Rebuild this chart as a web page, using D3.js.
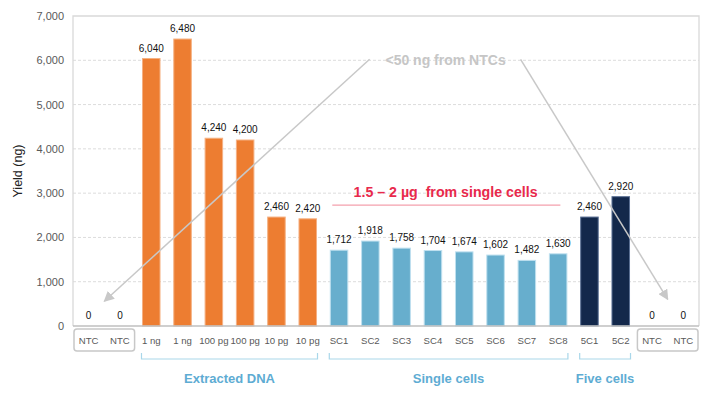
<!DOCTYPE html>
<html>
<head>
<meta charset="utf-8">
<script src="https://cdn.jsdelivr.net/npm/d3@7"></script>
<style>
  body { margin: 0; background: white; }
  text { font-family: Arial, "Liberation Sans", sans-serif; }
</style>
</head>
<body>
<div id="chart-area"></div>
<script>
// data
const categories = ["NTC", "NTC", "1 ng", "1 ng", "100 pg", "100 pg", "10 pg", "10 pg",
    "SC1", "SC2", "SC3", "SC4", "SC5", "SC6", "SC7", "SC8", "5C1", "5C2", "NTC", "NTC"]
const yields = [0, 0, 6040, 6480, 4240, 4200, 2460, 2420,
    1712, 1918, 1758, 1704, 1674, 1602, 1482, 1630, 2460, 2920, 0, 0]
const sampleType = ["ntc", "ntc", "dna", "dna", "dna", "dna", "dna", "dna",
    "sc", "sc", "sc", "sc", "sc", "sc", "sc", "sc", "five", "five", "ntc", "ntc"]
const yTicks = [0, 1000, 2000, 3000, 4000, 5000, 6000, 7000]
const groups = [
    {label: "Extracted DNA", from: 2, to: 7},
    {label: "Single cells", from: 8, to: 15},
    {label: "Five cells", from: 16, to: 17}
]

const margin = {left: 73, right: 17, top: 16, bottom: 69}
const width = 716 - margin.left - margin.right,
    height = 395 - margin.top - margin.bottom

const svg = d3.select("#chart-area").append("svg")
    .attr("width", 716)
    .attr("height", 395)

const defs = svg.append("defs")
defs.append("marker")
    .attr("id", "arrow")
    .attr("viewBox", "0 0 10 10")
    .attr("refX", 9).attr("refY", 5)
    .attr("markerWidth", 7).attr("markerHeight", 7)
    .attr("orient", "auto")
    .append("path")
    .attr("d", "M0,0 L10,5 L0,10 Z")
    .attr("fill", "#c8c8c8")

const g = svg.append("g")
    .attr("transform", `translate(${margin.left}, ${margin.top})`)

const x = d3.scaleBand()
    .domain(d3.range(categories.length))
    .range([0, width])
    .paddingInner(0.44)
    .paddingOuter(0.22)

const y = d3.scaleLinear()
    .domain([0, 7000])
    .range([height, 0])

const color = {dna: "#ed7d31", sc: "#67aecd", five: "#13284b", ntc: "#999"}
const edge = {dna: "#f5b183", sc: "#bfe0ef", five: "#5a6f93", ntc: "#999"}

// gridlines
g.selectAll(".grid")
    .data(yTicks.filter(d => d > 0 && d < 7000))
    .join("line")
    .attr("class", "grid")
    .attr("x1", 0).attr("x2", width)
    .attr("y1", d => y(d)).attr("y2", d => y(d))
    .attr("stroke", "#dcdcdc")
    .attr("stroke-dasharray", "3,2")

// frame
g.append("path")
    .attr("d", `M0,${height} V0 H${width} V${height}`)
    .attr("fill", "none")
    .attr("stroke", "#d9d9d9")
    .attr("stroke-width", 1.3)

// y axis
const yAxisCall = d3.axisLeft(y)
    .tickValues(yTicks)
    .tickFormat(d3.format(","))
    .tickSize(0)
    .tickPadding(9)

g.append("g")
    .attr("class", "y axis")
    .call(yAxisCall)
    .call(a => a.select(".domain").remove())
    .selectAll("text")
    .attr("font-size", "11px")
    .attr("fill", "#595959")

g.append("text")
    .attr("x", -(height / 2))
    .attr("y", -margin.left + 22)
    .attr("font-size", "12.5px")
    .attr("fill", "#222")
    .attr("text-anchor", "middle")
    .attr("transform", "rotate(-90)")
    .text("Yield (ng)")

// bars
g.selectAll("rect.bar")
    .data(yields)
    .join("rect")
    .attr("class", "bar")
    .attr("x", (d, i) => x(i))
    .attr("y", d => y(d))
    .attr("width", x.bandwidth())
    .attr("height", d => height - y(d))
    .attr("fill", (d, i) => color[sampleType[i]])
    .attr("stroke", (d, i) => d > 0 ? edge[sampleType[i]] : "none")
    .attr("stroke-width", 1)

// value labels
g.selectAll("text.value")
    .data(yields)
    .join("text")
    .attr("class", "value")
    .attr("x", (d, i) => x(i) + x.bandwidth() / 2)
    .attr("y", d => y(d) - 7)
    .attr("text-anchor", "middle")
    .attr("font-size", "10px")
    .attr("fill", "#111")
    .text(d => d3.format(",")(d))

// x axis
g.append("line")
    .attr("x1", 0).attr("x2", width)
    .attr("y1", height).attr("y2", height)
    .attr("stroke", "#bfbfbf")
    .attr("stroke-width", 1.3)

g.selectAll("text.cat")
    .data(categories)
    .join("text")
    .attr("class", "cat")
    .attr("x", (d, i) => x(i) + x.bandwidth() / 2)
    .attr("y", height + 18)
    .attr("text-anchor", "middle")
    .attr("font-size", "9.6px")
    .attr("fill", "#595959")
    .text(d => d)

// NTC boxes
const step = x.step()
const ntcBoxes = [[0, 1], [18, 19]]
g.selectAll("rect.ntc")
    .data(ntcBoxes)
    .join("rect")
    .attr("class", "ntc")
    .attr("x", d => x(d[0]) - step * 0.22 + 1)
    .attr("y", height + 3)
    .attr("width", d => x(d[1]) + x.bandwidth() - x(d[0]) + step * 0.44 - 2)
    .attr("height", 22)
    .attr("rx", 3)
    .attr("fill", "none")
    .attr("stroke", "#c8c8c8")
    .attr("stroke-width", 1.5)

// group brackets
const bracketY = height + 33
const bracket = g.selectAll("g.bracket")
    .data(groups)
    .join("g")
    .attr("class", "bracket")

bracket.append("path")
    .attr("d", d => {
        const x0 = x(d.from) - 1, x1 = x(d.to) + x.bandwidth() + 1
        return `M${x0},${bracketY - 6} V${bracketY} H${x1} V${bracketY - 6}`
    })
    .attr("fill", "none")
    .attr("stroke", "#a9d7ea")
    .attr("stroke-width", 1.2)

bracket.append("text")
    .attr("x", d => (x(d.from) + x(d.to) + x.bandwidth()) / 2)
    .attr("y", bracketY + 24)
    .attr("text-anchor", "middle")
    .attr("font-size", "13px")
    .attr("font-weight", "bold")
    .attr("fill", "#5eacd3")
    .text(d => d.label)

// NTC annotation, centred over the single cells group
const noteX = (x(8) + x(15) + x.bandwidth()) / 2 - 3
g.append("text")
    .attr("x", noteX)
    .attr("y", y(6000) + 5)
    .attr("text-anchor", "middle")
    .attr("font-size", "14px")
    .attr("font-weight", "bold")
    .attr("fill", "#c6c6c6")
    .text("<50 ng from NTCs")

g.append("line")
    .attr("x1", noteX - 76).attr("y1", y(6000) - 1)
    .attr("x2", (x(0) + x(1) + x.bandwidth()) / 2).attr("y2", y(560))
    .attr("stroke", "#c8c8c8")
    .attr("stroke-width", 1.5)
    .attr("marker-end", "url(#arrow)")

g.append("line")
    .attr("x1", noteX + 75).attr("y1", y(6000) - 1)
    .attr("x2", (x(18) + x(19) + x.bandwidth()) / 2).attr("y2", y(600))
    .attr("stroke", "#c8c8c8")
    .attr("stroke-width", 1.5)
    .attr("marker-end", "url(#arrow)")

// single cell annotation
g.append("text")
    .attr("x", noteX)
    .attr("y", y(3000) + 4)
    .attr("text-anchor", "middle")
    .attr("font-size", "14.2px")
    .attr("font-weight", "bold")
    .attr("fill", "#e8294c")
    .style("white-space", "pre")
    .text("1.5 \u2013 2 \u00b5g  from single cells")

g.append("line")
    .attr("x1", x(8) + 2).attr("x2", x(15) + 11)
    .attr("y1", y(2730)).attr("y2", y(2730))
    .attr("stroke", "#f4a0ad")
    .attr("stroke-width", 1.2)
</script>
</body>
</html>
